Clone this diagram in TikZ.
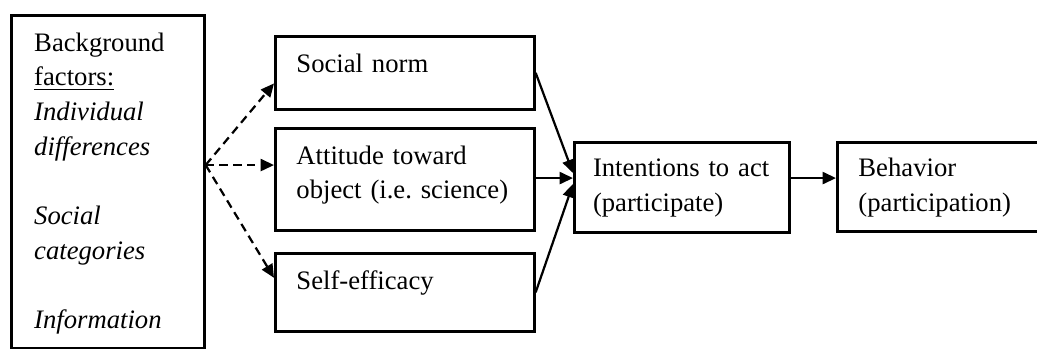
\documentclass[tikz,border=0pt]{standalone}
\usepackage{fontspec}
\setmainfont{Liberation Serif}
\usepackage{tikz}
\usetikzlibrary{arrows.meta, calc}

\begin{document}
\begin{tikzpicture}[
  x=0.45pt, y=-0.45pt,
  box/.style={draw, line width=1.2pt, anchor=north west, align=left,
              inner ysep=0pt, inner xsep=9.5pt, text height=16.2pt,
              font=\fontsize{12}{15.6}\selectfont},
  arr/.style={-{Triangle[length=6pt, width=5.4pt]}, line width=1pt},
  dasharr/.style={arr, dash pattern=on 3.8pt off 2.4pt}
]
\useasboundingbox (0,0) rectangle (1037,349);

\node[box, inner xsep=10.3pt, text width=66.25pt, text depth=133.65pt] (bg) at (10,14)
  {Background\\\underline{factors:}\\\textit{Individual}\\\textit{differences}\\[15.6pt]
   \textit{Social}\\\textit{categories}\\[15.6pt]\textit{Information}};
\node[box, text width=97.55pt, text depth=16.65pt] (sn) at (274,35) {Social norm};
\node[box, text width=97.55pt, text depth=29.7pt] (att) at (274,127)
  {Attitude toward\\object (i.e.\ science)};
\node[box, text width=97.55pt, text depth=18.9pt] (se) at (274,252) {Self-efficacy};
\node[box, inner xsep=8.4pt, text width=80pt, text height=15.3pt, text depth=25.2pt] (int)
  at (573,141) {Intentions to act\\(participate)};
\node[box, text width=72.8pt, text height=15.3pt, text depth=24.75pt] (beh) at (836,141)
  {Behavior\\(participation)};

% background factors fan out
\coordinate (fan) at ($(bg.north east)!0.45!(bg.south east)$);
\draw[dasharr] (fan) -- ($(sn.north west)!0.64!(sn.south west)$);
\draw[dasharr] (fan) -- (att.west |- fan);
\draw[dasharr] (fan) -- ($(se.north west)!0.32!(se.south west)$);

% into intentions, then behavior
\coordinate (join) at ($(int.north west)!0.4!(int.south west)$);
\draw[arr] (sn.east) -- ($(join)+(0,-5)$);
\draw[arr] (att.east |- join) -- (join);
\draw[arr] (se.east) -- ($(join)+(0,6)$);
\draw[arr] (int.east |- join) -- (beh.west |- join);
\end{tikzpicture}
\end{document}
